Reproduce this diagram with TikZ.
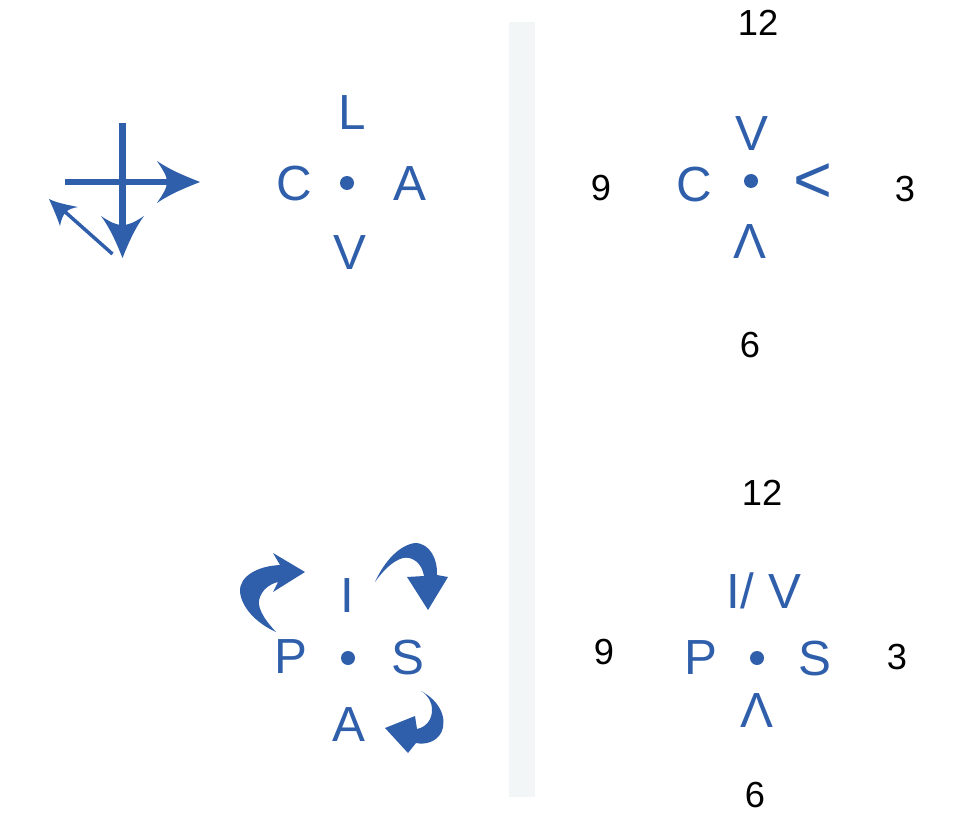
\documentclass[tikz,border=0pt]{standalone}
\usepackage{fontspec}
\setmainfont{Liberation Sans}
\definecolor{cblue}{RGB}{47,95,171}
\definecolor{cbar}{RGB}{243,246,246}
\begin{document}
\begin{tikzpicture}[x=0.75pt,y=-0.75pt,
  lett/.style={inner sep=0pt,anchor=base,text=cblue,font=\fontsize{37}{44}\selectfont},
  num/.style={inner sep=0pt,anchor=base,text=black,font=\fontsize{27.2}{33}\selectfont},
  dotn/.style={circle,fill=cblue,inner sep=0pt,minimum size=10.5pt},
  shaft/.style={draw=cblue,line width=5.2pt},
  headfill/.style={fill=cblue,draw=none}]
\useasboundingbox (0,0) rectangle (957,813);
% separator bar
\fill[cbar] (509,22) rectangle (535,797);

% ---- top left: arrows
\draw[shaft] (65,182) -- (168,182);
\draw[shaft] (122.5,123) -- (122.5,226);
\draw[draw=cblue,line width=2.6pt] (112.5,254) -- (63,210);
\fill[headfill] (200,182) .. controls (185,176) and (170,170) .. (157,161)
  .. controls (163,170) and (167,176) .. (167,182)
  .. controls (167,188) and (163,194) .. (157,203)
  .. controls (170,194) and (185,188) .. cycle;
\fill[headfill] (122.5,258) .. controls (116.5,243) and (110.5,229) .. (101,216)
  .. controls (110,222) and (116,225) .. (122.5,225)
  .. controls (129,225) and (135,222) .. (144,216)
  .. controls (134.5,229) and (128.5,243) .. cycle;
\fill[headfill] (49,199) .. controls (53,208) and (57,217) .. (60,226)
  .. controls (61,220) and (63,215) .. (66,212)
  .. controls (69,209) and (73,208) .. (78,207)
  .. controls (68,205) and (57,203) .. cycle;

% ---- top left: letters
\node[lett] (tlL) at (352,129.5) {L};
\node[lett] (tlC) at (294,201) {C};
\node[lett] (tlA) at (410,201) {A};
\node[lett] (tlV) at (350,269.5) {V};
\node[dotn] (tlD) at (347,183) {};

% ---- top right
\node[num] (tr12) at (758,36) {12};
\node[num] (tr9) at (601,201) {9};
\node[num] (tr3) at (905,202) {3};
\node[num] (tr6) at (750,357) {6};
\node[lett] (trV) at (752,151) {V};
\node[lett] (trC) at (694,202) {C};
\node[inner sep=0pt,text=cblue,font=\fontsize{50}{60}\selectfont] (trLt) at (813,183) {<};
\node[lett] (trL) at (750,258) {Λ};
\node[dotn] (trD) at (751,181) {};

% ---- bottom left
\node[lett] (blI) at (347,612) {I};
\node[lett] (blP) at (291,673) {P};
\node[lett] (blS) at (408,674) {S};
\node[lett] (blA) at (349,741) {A};
\node[dotn] (blD) at (348,658) {};
% curved arrows
\fill[headfill] (305,572) -- (273,553) -- (280,565)
  .. controls (258,566) and (239,576) .. (240,592)
  .. controls (242,610) and (260,625) .. (276,632)
  .. controls (263,618) and (256,606) .. (260,597)
  .. controls (263,589) and (270,584) .. (278,582)
  -- (273,592) -- cycle;
\fill[headfill] (375,582) .. controls (385,560) and (400,545) .. (415,543)
  .. controls (430,543) and (438,560) .. (437,575)
  -- (448,577) -- (428,610) -- (407,577) -- (424,576)
  .. controls (422,563) and (412,556) .. (403,558)
  .. controls (392,561) and (382,572) .. cycle;
\fill[headfill] (421,691) .. controls (440,701) and (448,719) .. (441,733)
  .. controls (436,742) and (425,745) .. (416,743)
  -- (408,753) -- (385,728) -- (415,716) -- (417,729)
  .. controls (426,727) and (432,720) .. (432,710)
  .. controls (432,702) and (428,695) .. cycle;

% ---- bottom right
\node[num] (br12) at (762,505) {12};
\node[num] (br9) at (604,664) {9};
\node[num] (br3) at (897,669) {3};
\node[num] (br6) at (755,807.5) {6};
\node[lett] (brIV) at (764,608) {I/ V};
\node[lett] (brP) at (701,674) {P};
\node[lett] (brS) at (815,675) {S};
\node[lett] (brL) at (757,727) {Λ};
\node[dotn] (brD) at (757,658) {};
\end{tikzpicture}
\end{document}
